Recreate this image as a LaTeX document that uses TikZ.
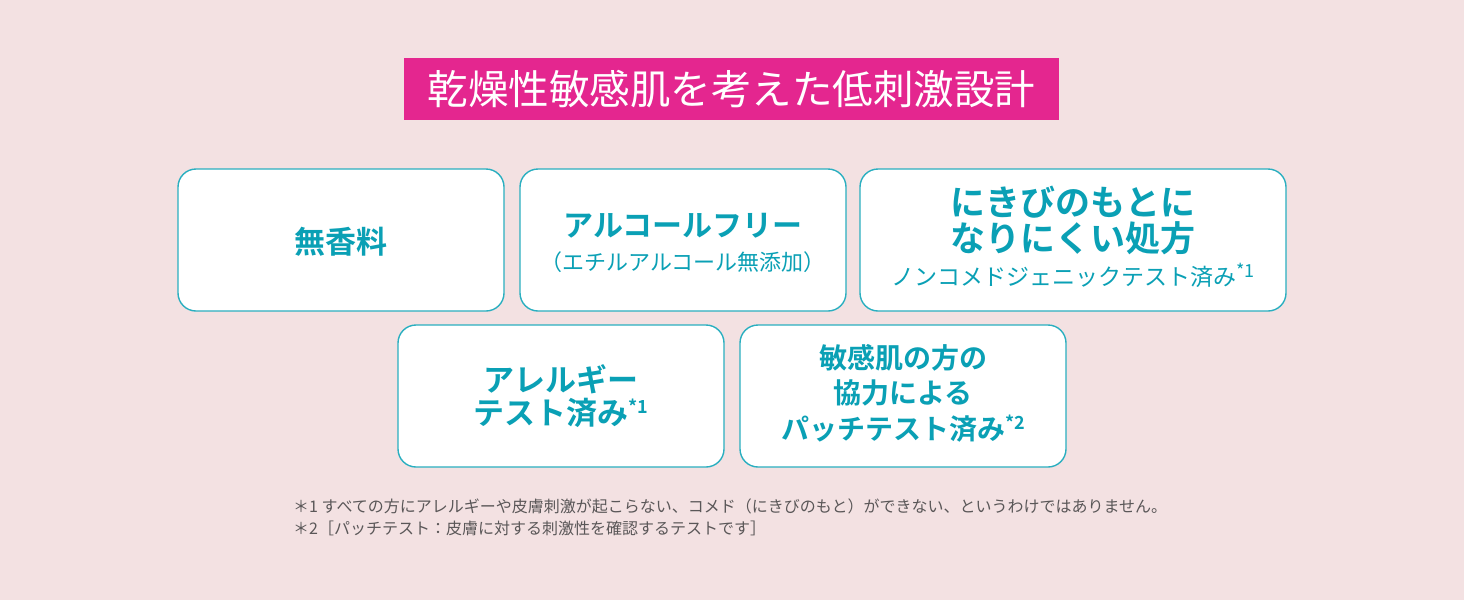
\documentclass[tikz,border=0pt]{standalone}
\usepackage{fontspec}
\newfontfamily\jp{Noto Sans CJK JP}[BoldFont={Noto Sans CJK JP Bold}]
\definecolor{bgc}{HTML}{F3E1E2}
\definecolor{mag}{HTML}{E4268F}
\definecolor{tealtxt}{HTML}{0AA0B5}
\definecolor{tealline}{HTML}{2AAFC0}
\definecolor{notegray}{HTML}{5A5758}
\newcommand{\fs}[2]{\fontsize{#1}{#2}\selectfont}
\newcommand{\supmark}[1]{\raisebox{0.36em}{\fs{18}{18}#1}}
\begin{document}
\begin{tikzpicture}[x=1pt,y=-1pt,
  featbox/.style={draw=tealline, line width=1.4pt, fill=white, rounded corners=18pt,
    minimum width=326pt, minimum height=142pt, inner sep=0pt},
  feattext/.style={align=center, text=tealtxt, inner sep=0pt},
  titlebox/.style={fill=mag, minimum width=655pt, minimum height=62pt, text=white, inner sep=0pt, font=\jp\fs{40.5}{44}},
  note/.style={anchor=west, text=notegray, inner sep=0pt, font=\jp\fs{16}{18}}]
\fill[bgc] (0,0) rectangle (1464,600);
\useasboundingbox (0,0) rectangle (1464,600);
\node[titlebox] (title) at (731.5,89) {乾燥性敏感肌を考えた低刺激設計};
% boxes
\node[featbox] (b1) at (341,240) {};
\node[featbox] (b2) at (683,240) {};
\node[featbox, minimum width=426pt] (b3) at (1073,240) {};
\node[featbox] (b4) at (561,396) {};
\node[featbox] (b5) at (903,396) {};
% texts
\node[feattext, font=\jp\bfseries\fs{31}{36}] (t1) at ([yshift=-2pt]b1.center) {無香料};
\node[feattext, font=\jp\fs{30}{34}] (t2) at ([yshift=-3pt]b2.center) {{\bfseries アルコールフリー}\\{\fs{22}{26}（エチルアルコール無添加）}};
\node[feattext, font=\jp\fs{35}{36}] (t3) at ([yshift=3pt]b3.center) {{\bfseries にきびのもとに}\\{\bfseries なりにくい処方}\\[-2pt]{\fs{23}{30}ノンコメドジェニックテスト済み\supmark{*1}}};
\node[feattext, font=\jp\bfseries\fs{31}{32.5}] (t4) at (b4.center) {アレルギー\\テスト済み\supmark{*1}};
\node[feattext, font=\jp\bfseries\fs{28}{35.5}] (t5) at ([yshift=3pt]b5.center) {敏感肌の方の\\協力による\\パッチテスト済み\supmark{*2}};
\node[note] (n1) at (293,506) {＊1 すべての方にアレルギーや皮膚刺激が起こらない、コメド（にきびのもと）ができない、というわけではありません。};
\node[note] (n2) at (293,528) {＊2［パッチテスト：皮膚に対する刺激性を確認するテストです］};
\end{tikzpicture}
\end{document}
